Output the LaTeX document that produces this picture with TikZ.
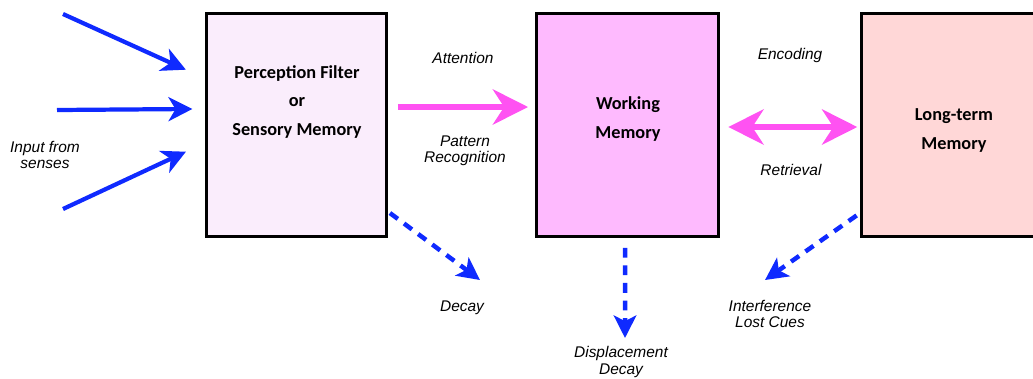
\documentclass[tikz,border=0pt]{standalone}
\usepackage{fontspec}
\setmainfont{Liberation Sans}
\newfontfamily\boxfont{Carlito}
\usetikzlibrary{arrows.meta,positioning}
\definecolor{sensefill}{RGB}{250,237,252}
\definecolor{workfill}{RGB}{254,186,254}
\definecolor{longfill}{RGB}{255,215,215}
\definecolor{flowpink}{RGB}{255,82,242}
\definecolor{inblue}{RGB}{15,42,255}
\begin{document}
\begin{tikzpicture}[x=0.025cm, y=-0.025cm,
  memory/.style={draw=black, line width=2pt, minimum width=4.5cm, minimum height=5.575cm},
  boxtext/.style={align=center, font=\boxfont\bfseries\fontsize{13}{20.5}\selectfont},
  lbl/.style={align=center, font=\itshape\fontsize{11}{11.5}\selectfont},
  input/.style={draw=inblue, line width=3pt, -{Stealth[length=17pt,width=17pt,inset=5pt]}},
  flow/.style={draw=flowpink, line width=4.3pt, -{Stealth[length=25pt,width=25pt,inset=8pt]}},
  exchange/.style={draw=flowpink, line width=4.3pt, {Stealth[length=25pt,width=25pt,inset=8pt]}-{Stealth[length=25pt,width=25pt,inset=8pt]}},
  loss/.style={draw=inblue, line width=3.2pt, dash pattern=on 7pt off 5.5pt, -{Stealth[length=16pt,width=16pt,inset=4pt]}}]
  \useasboundingbox (0,0) rectangle (1033,378);
  % memory stores
  \node[memory, fill=sensefill] (sense) at (296.5,125) {};
  \node[memory, fill=workfill, minimum width=4.55cm] (work) at (627.5,125) {};
  \node[memory, fill=longfill, minimum width=4.55cm] (long) at (952.5,125) {};
  \node[boxtext] (senseT) at (297,102) {Perception Filter\\or\\Sensory Memory};
  \node[boxtext] (workT) at (628,119) {Working\\Memory};
  \node[boxtext] (longT) at (954,130.5) {Long-term\\Memory};
  % labels
  \node[lbl] (senses) at (45,155) {Input from\\senses};
  \node[lbl] (attn) at (463,58) {Attention};
  \node[lbl] (pattern) at (465,151) {Pattern\\Recognition};
  \node[lbl] (enc) at (790,55) {Encoding};
  \node[lbl] (ret) at (791,170) {Retrieval};
  \node[lbl] (decay) at (462,308) {Decay};
  \node[lbl] (displ) at (621,362) {Displacement\\Decay};
  \node[lbl] (interf) at (770,314) {Interference\\Lost Cues};
  % input from senses
  \coordinate (in1) at (63,14);
  \coordinate (in2) at (57,110);
  \coordinate (in3) at (63,209);
  \draw[input, shorten >=15pt] (in1) -- (sense.153.4);
  \draw[input, shorten >=9pt] (in2) -- (sense.170.6);
  \draw[input, shorten >=15pt] (in3) -- (sense.191.5);
  % transfer between stores
  \draw[flow, shorten <=7pt, shorten >=5pt] ([yshift=0.45cm]sense.east) -- ([yshift=0.45cm]work.west);
  \draw[exchange, shorten <=6pt, shorten >=2pt] ([yshift=-0.05cm]work.east) -- ([yshift=-0.05cm]long.west);
  % forgetting
  \coordinate (decayTip) at (480,280);
  \coordinate (displTip) at (625,338);
  \coordinate (interfTip) at (765,280);
  \draw[loss] ([xshift=0.05cm, yshift=-2.2cm]sense.east) -- (decayTip);
  \draw[loss, shorten <=7pt] ([xshift=-0.06cm]work.south) -- (displTip);
  \draw[loss, shorten <=3pt] ([yshift=-2.2cm]long.west) -- (interfTip);
\end{tikzpicture}
\end{document}
